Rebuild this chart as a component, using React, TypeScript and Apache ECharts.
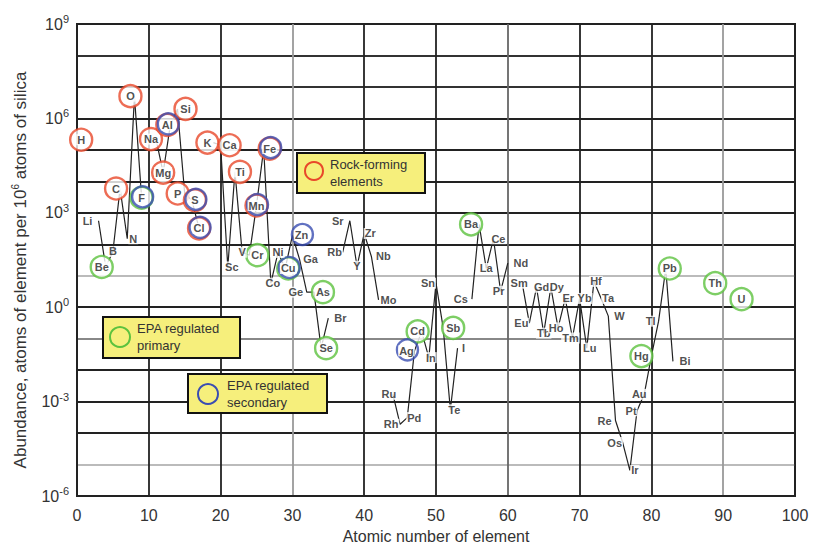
import React, { useEffect, useRef } from 'react';
import * as echarts from 'echarts';

const elementSymbols = ['H','Li','Be','B','C','N','O','F','Na','Mg','Al','Si','P','S','Cl','K','Ca','Sc','Ti','V','Cr','Mn','Fe','Co','Ni','Cu','Zn','Ga','Ge','As','Se','Br','Rb','Sr','Y','Zr','Nb','Mo','Ru','Rh','Pd','Ag','Cd','In','Sn','Sb','Te','I','Cs','Ba','La','Ce','Pr','Nd','Sm','Eu','Gd','Tb','Dy','Ho','Er','Tm','Yb','Lu','Hf','Ta','W','Re','Os','Ir','Pt','Au','Hg','Tl','Pb','Bi','Th','U'];
const atomicNumbers = [1,3,4,5,6,7,8,9,11,12,13,14,15,16,17,19,20,21,22,23,24,25,26,27,28,29,30,31,32,33,34,35,37,38,39,40,41,42,44,45,46,47,48,49,50,51,52,53,55,56,57,58,59,60,62,63,64,65,66,67,68,69,70,71,72,73,74,75,76,77,78,79,80,81,82,83,90,92];
const abundances = [2.1e5,560,19,59,5900,150,5.1e6,3000,2.2e5,1.9e4,6.2e5,2.0e6,4100,2500,320,1.7e5,1.4e5,19,2.0e4,56,45,1700,1.1e5,5.8,55,17,190,33,3.0,3.0,0.05,0.45,55,560,20,220,41,1.7,0.0017,0.00019,0.00031,0.041,0.17,0.025,5.8,0.22,0.00055,0.05,1.8,430,17,150,3.2,25,5.8,0.31,4.3,0.15,4.3,0.22,1.9,0.105,1.9,0.05,6.6,1.9,0.52,0.00025,0.00005,0.0000065,0.00051,0.0017,0.028,0.36,17,0.019,5.8,1.8];

const rockForming = ['H','C','O','Na','Mg','Al','Si','P','S','Cl','K','Ca','Ti','Mn','Fe'];
const epaPrimary = ['Be','F','Cr','Cu','As','Se','Cd','Sb','Ba','Hg','Pb','Th','U'];
const epaSecondary = ['F','Al','S','Cl','Mn','Fe','Cu','Zn','Ag'];

const xTicks = [0,10,20,30,40,50,60,70,80,90,100];
const yMin = 1e-6;
const yMax = 1e9;

// style: horizontal pixel shift of each label (and its ring) beside its point
const labelShift: Record<string, number> = {
  H: -3, Li: -11, Be: -4, C: -4, N: 6, O: -4, Na: -5, Al: -3, Si: 8, P: -7, S: 3,
  K: -6, Ca: 9, Sc: 4, Ti: 5, Cr: 8, Fe: 6, Co: 2, Cu: 3, Zn: 9, Ga: 11, Ge: -11, As: 9,
  Se: 5, Br: 12, Rb: -8, Sr: -12, Zr: 6, Nb: 12, Mo: 10, Ru: -4, Rh: -9, Pd: 7, Ag: -8,
  Cd: -4, In: 2, Sn: -8, Sb: 10, Te: 4, I: 6, Cs: -11, Ba: -8, Ce: 5, Pr: -2, Nd: 13,
  Sm: -3, Eu: -8, Gd: 5, Dy: 6, Ho: -2, Er: 3, Tm: -2, Yb: 5, Lu: 3, Hf: 2, Ta: 7, W: 11,
  Re: -11, Os: -8, Ir: 5, Pt: -6, Au: -5, Hg: -10, Tl: -8, Pb: 4, Bi: 12, Th: -8, U: 4,
};

const FONT = "'Liberation Sans', Arial, sans-serif";
const RED = '#e8482a';
const GREEN = '#5cc23e';
const BLUE = '#3a4db2';
const YELLOW = '#f6ef7c';

export default function App() {
  const ref = useRef<HTMLDivElement>(null);
  useEffect(() => {
    if (!ref.current) return;
    const chart = echarts.init(ref.current, null, { renderer: 'svg' });

    const points = elementSymbols.map((s, i) => ({ name: s, value: [atomicNumbers[i], abundances[i]] }));
    const lineData: any[] = [];
    for (let z = 1; z <= 92; z++) {
      const idx = atomicNumbers.indexOf(z);
      lineData.push(idx >= 0 ? [z, abundances[idx]] : [z, '-']);
    }
    const shiftOf = (n: string) => labelShift[n] || 0;

    const ringSeries = (list: string[], color: string, fill: string, size: number, extra: number[], z: number) => ({
      type: 'scatter',
      data: points
        .filter((p) => list.includes(p.name))
        .map((p) => ({ ...p, symbolOffset: [shiftOf(p.name) + extra[0], extra[1]] })),
      symbol: 'circle',
      symbolSize: size,
      itemStyle: { color: fill, borderColor: color, borderWidth: 2.4 },
      z,
      silent: true,
    });

    const hLineColors = ['#222','#bbb','#222','#222','#222','#888','#222','#bbb','#222','#222','#222','#222','#222','#333','#333','#222'];
    const vLineColors = ['#222','#222','#222','#999','#222','#222','#666','#222','#222','#999','#222'];

    const legendBox = (x: number, y: number, w: number, h: number, cx: number, cy: number, r: number, color: string, tx: number, ty: number, text: string) => ({
      type: 'group',
      z: 20,
      children: [
        { type: 'rect', shape: { x, y, width: w, height: h }, style: { fill: YELLOW, stroke: '#111', lineWidth: 2 }, z: 20 },
        { type: 'circle', shape: { cx, cy, r }, style: { fill: 'transparent', stroke: color, lineWidth: 2 }, z: 21 },
        { type: 'text', x: tx, y: ty, style: { text, fill: '#333', font: `13px ${FONT}`, lineHeight: 17 }, z: 21 },
      ],
    });

    chart.setOption({
      animation: false,
      backgroundColor: '#fff',
      grid: { left: 77, top: 24, width: 718, height: 475, show: true, borderColor: '#222', borderWidth: 2, backgroundColor: 'transparent' },
      xAxis: {
        type: 'value',
        min: xTicks[0],
        max: xTicks[xTicks.length - 1],
        interval: 10,
        name: 'Atomic number of element',
        nameLocation: 'middle',
        nameGap: 32,
        nameTextStyle: { fontFamily: FONT, fontSize: 16, color: '#333' },
        axisLine: { lineStyle: { color: '#222', width: 2 } },
        axisTick: { show: false },
        axisLabel: { fontFamily: FONT, fontSize: 16, color: '#333', margin: 11 },
        splitLine: { show: true, lineStyle: { color: vLineColors, width: 1.8 } },
      },
      yAxis: {
        type: 'log',
        logBase: 10,
        min: yMin,
        max: yMax,
        interval: 1,
        splitNumber: 15,
        axisLine: { lineStyle: { color: '#222', width: 2 } },
        axisTick: { show: false },
        axisLabel: {
          margin: 8,
          formatter: (v: number) => {
            const e = Math.round(Math.log10(v));
            if (e % 3 !== 0) return '';
            return `{b|10}{s|${e}}`;
          },
          rich: {
            b: { fontFamily: FONT, fontSize: 16, color: '#333' },
            s: { fontFamily: FONT, fontSize: 11, color: '#333', padding: [0, 0, 10, 0] },
          },
        },
        splitLine: { show: true, lineStyle: { color: hLineColors, width: 1.8 } },
      },
      graphic: [
        {
          type: 'text',
          x: 20,
          y: 270,
          rotation: Math.PI / 2,
          style: {
            text: '{a|Abundance, atoms of element per 10}{s|6}{a| atoms of silica}',
            align: 'center',
            verticalAlign: 'middle',
            rich: {
              a: { fontFamily: FONT, fontSize: 17, fill: '#333' },
              s: { fontFamily: FONT, fontSize: 10, fill: '#333', padding: [0, 0, 10, 0] },
            },
          },
          z: 20,
        },
        legendBox(297, 153, 128, 40, 314, 171, 9, RED, 330, 156, 'Rock-forming\nelements'),
        legendBox(103, 317, 137, 41, 120, 337, 10, GREEN, 137, 320, 'EPA regulated\nprimary'),
        legendBox(188, 374, 139, 39, 208, 394, 10, BLUE, 227, 377, 'EPA regulated\nsecondary'),
      ],
      series: [
        {
          type: 'line',
          data: lineData,
          showSymbol: false,
          connectNulls: false,
          lineStyle: { color: '#222', width: 1.2 },
          z: 3,
          silent: true,
        },
        ringSeries(rockForming, RED, '#fff', 22, [0, 0], 4),
        ringSeries(epaPrimary, GREEN, '#fff', 22, [0, 0], 5),
        ringSeries(epaSecondary, BLUE, 'rgba(255,255,255,0)', 21, [1, -1], 6),
        {
          type: 'scatter',
          data: points.map((p) => ({ ...p, label: { offset: [shiftOf(p.name), 0] } })),
          symbolSize: 1,
          itemStyle: { color: 'rgba(0,0,0,0)' },
          z: 8,
          silent: true,
          label: {
            show: true,
            position: 'inside',
            formatter: (p: any) => p.name,
            fontFamily: FONT,
            fontSize: 11,
            fontWeight: 'bold',
            color: '#222',
            backgroundColor: '#fff',
            padding: [0, 1],
          },
        },
      ],
    });
    return () => chart.dispose();
  }, []);
  return <div ref={ref} style={{ position: 'fixed', left: 0, top: 0, width: 815, height: 549 }} />;
}
